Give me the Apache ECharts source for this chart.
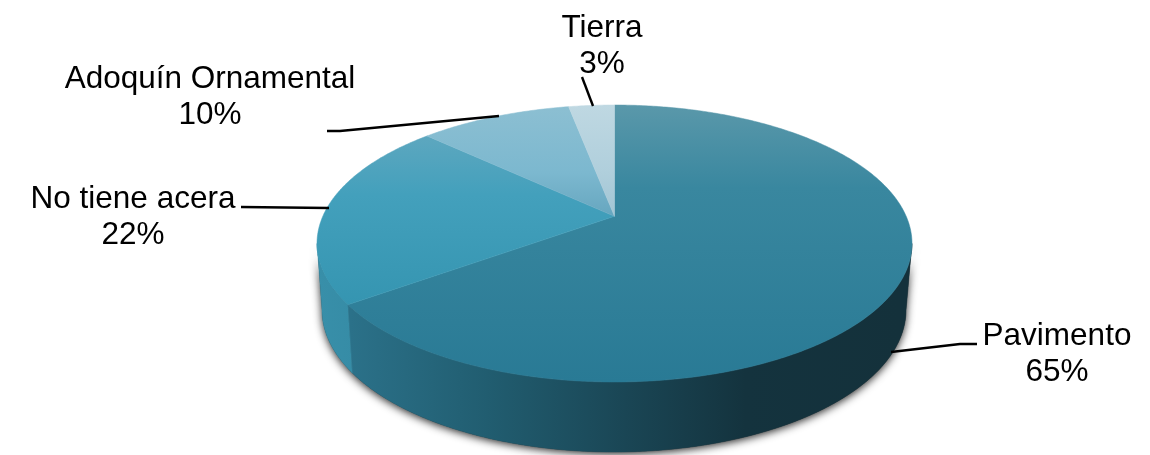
<!DOCTYPE html>
<html>
<head>
<meta charset="utf-8">
<style>html,body{margin:0;padding:0;background:#fff}#c{width:1150px;height:455px}</style>
<script src="https://cdn.jsdelivr.net/npm/echarts@6/dist/echarts.min.js"></script>
</head>
<body>
<div id="c"></div>
<script>
const categories = ['Pavimento', 'No tiene acera', 'Adoquín Ornamental', 'Tierra'];
const shares = [65, 22, 10, 3];

const topEllipse = {cx: 614.5, cy: 243.5, rx: 297.5, ry: 138.5};
const baseEllipse = {cx: 614, cy: 310, rx: 292, ry: 142};
const perspective = 0.82;

const topStops = [
  [[0, '#5a98aa'], [0.3, '#39879f'], [1, '#297a95']],
  [[0, '#5da7bf'], [0.35, '#43a0bc'], [1, '#3595b1']],
  [[0, '#8cbfd2'], [0.6, '#7cb8cf'], [1, '#66a6bf']],
  [[0, '#bfd8e2'], [0.6, '#b0cfdc'], [1, '#a2c5d4']]
];
const wallStops = [
  [[0, '#2b7189'], [0.25, '#215d70'], [0.5, '#1a4655'], [0.72, '#14333e'], [1, '#14313b']],
  [[0, '#388fa9'], [1, '#368ca6']]
];
const labelAnchors = [[1057, 354], [133, 217], [210, 97], [602, 46]];
const leaders = [
  [[891, 352], [960, 344], [977, 344]],
  [[241, 207], [329, 208]],
  [[327, 131], [340, 131], [499, 116]],
  [[582, 77], [593, 106]]
];

const total = shares.reduce((a, b) => a + b, 0);
const rad = d => d * Math.PI / 180;
function warp(theta) {
  return 2 * Math.atan2(perspective * Math.sin(theta / 2), Math.cos(theta / 2));
}
function unwrap(t) { return t < 0 ? t + 2 * Math.PI : t; }
function pt(e, t) { return [e.cx + e.rx * Math.sin(t), e.cy - e.ry * Math.cos(t)]; }
function arc(e, a, b) {
  const n = Math.max(2, Math.ceil(Math.abs(b - a) / rad(0.5)));
  const out = [];
  for (let i = 0; i <= n; i++) out.push(pt(e, a + (b - a) * i / n));
  return out;
}
function grad(x0, y0, x1, y1, stops) {
  return new echarts.graphic.LinearGradient(x0, y0, x1, y1,
    stops.map(s => ({offset: s[0], color: s[1]})), true);
}
function sliceAngles(i) {
  let s = 0;
  for (let k = 0; k < i; k++) s += shares[k];
  const a = unwrap(warp(2 * Math.PI * s / total));
  const e = s + shares[i] === total ? 2 * Math.PI : unwrap(warp(2 * Math.PI * (s + shares[i]) / total));
  return [a, e];
}
const apex = pt({cx: topEllipse.cx, cy: topEllipse.cy, rx: 0, ry: topEllipse.ry},
  Math.acos(Math.cos(warp(Math.PI / 2))));

const option = {
  animation: false,
  backgroundColor: '#ffffff',
  series: [
    { // soft shadow under the drum
      type: 'custom', coordinateSystem: 'none', silent: true, z: 1,
      data: [0],
      renderItem: () => ({
        type: 'polygon',
        shape: {points: arc(topEllipse, rad(90), rad(270)).concat(arc(baseEllipse, rad(270), rad(90)))},
        style: {fill: '#333', shadowBlur: 8, shadowColor: 'rgba(0,0,0,0.85)', shadowOffsetY: 2}
      })
    },
    { // drum walls
      type: 'custom', coordinateSystem: 'none', silent: true, z: 2,
      data: [shares[0], shares[1]],
      renderItem: (p) => {
        const i = p.dataIndex;
        const ang = sliceAngles(i);
        const a = i === 0 ? rad(90) : ang[0];
        const b = i === 0 ? ang[1] : rad(270);
        const pts = arc(topEllipse, a, b).concat(arc(baseEllipse, b, a));
        const fill = i === 0 ? grad(350, 0, 900, 0, wallStops[0]) : grad(318, 0, 355, 0, wallStops[1]);
        return {
          type: 'polygon',
          shape: {points: pts},
          style: {fill: fill, stroke: fill, lineWidth: 0.5}
        };
      }
    },
    { // top face
      type: 'custom', coordinateSystem: 'none', silent: true, z: 3,
      data: shares,
      renderItem: (p) => {
        const ang = sliceAngles(p.dataIndex);
        const pts = [apex].concat(arc(topEllipse, ang[0], ang[1]));
        const top = topEllipse.cy - topEllipse.ry, bot = topEllipse.cy + topEllipse.ry;
        const ys = pts.map(q => q[1]);
        const y0 = p.dataIndex === 0 ? top : Math.min(...ys);
        const y1 = p.dataIndex === 0 ? bot : Math.max(...ys);
        const fill = grad(0, y0, 0, y1, topStops[p.dataIndex]);
        return {
          type: 'polygon',
          shape: {points: pts},
          style: {fill: fill, stroke: fill, lineWidth: 0.5}
        };
      }
    },
    { // leader lines and labels
      type: 'custom', coordinateSystem: 'none', silent: true, z: 4,
      data: shares,
      renderItem: (p, api) => {
        const i = p.dataIndex;
        return {
          type: 'group',
          children: [
            {
              type: 'polyline',
              shape: {points: leaders[i]},
              style: {stroke: '#000', lineWidth: 2.4, fill: null}
            },
            {
              type: 'text',
              x: labelAnchors[i][0], y: labelAnchors[i][1],
              style: {
                text: categories[i] + '\n' + api.value(0) + '%',
                align: 'center', verticalAlign: 'middle',
                font: '31.5px "Liberation Sans", Arial, sans-serif',
                lineHeight: 36, fill: '#000'
              }
            }
          ]
        };
      }
    }
  ]
};
const chart = echarts.init(document.getElementById('c'), null, {renderer: 'canvas'});
chart.setOption(option);
</script>
</body>
</html>
